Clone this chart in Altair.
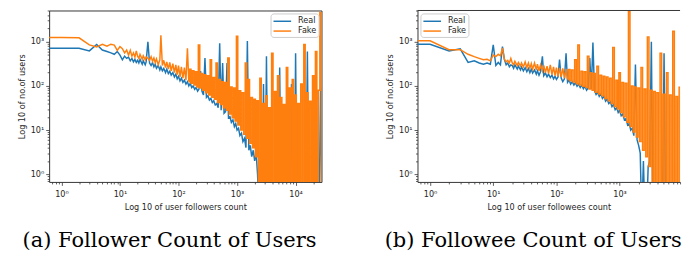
import altair as alt
import pandas as pd

# ---------------- data ----------------
# low counts (each integer shown individually); 0.5 stands for the zero-count point at the left edge
x_low = [0.5, 1, 2, 3, 4, 5, 6, 7, 8, 9, 10, 11, 12, 13, 14, 15, 16, 17, 18, 19]

real_low_a = [710, 710, 710, 620, 870, 650, 600, 560, 520, 600, 500, 390, 470, 420, 450, 370, 420, 350, 400, 340]
fake_low_a = [1250, 1250, 1230, 850, 760, 870, 790, 880, 840, 640, 780, 700, 560, 650, 500, 640, 470, 560, 450, 620]

real_low_b = [880, 880, 620, 690, 340, 370, 330, 310, 330, 310, 850, 290, 340, 300, 780, 400, 300, 330, 270, 300]
fake_low_b = [1050, 1050, 660, 660, 520, 460, 420, 390, 400, 370, 500, 460, 520, 480, 720, 400, 350, 380, 330, 420]

# higher counts (sampled positions)
x_grid = [20, 21, 22, 24, 25, 27, 28, 30, 32, 34,
          36, 38, 40, 42, 45, 48, 50, 53, 56, 60,
          63, 67, 71, 75, 80, 85, 90, 95, 100, 106,
          112, 119, 126, 134, 142, 150, 159, 168, 178, 189,
          200, 212, 224, 238, 252, 267, 283, 300, 318, 337,
          357, 378, 400, 424, 450, 476, 505, 535, 567, 600,
          636, 674, 714, 757, 800, 850, 900, 950, 1000, 1060,
          1120, 1190, 1260, 1340, 1420, 1500, 1590, 1680, 1780, 1890,
          2000, 2120, 2240, 2380, 2520, 2670, 2830, 3000, 3180, 3370,
          3570, 3780, 4000, 4240, 4500, 4760, 5050, 5350, 5670, 6000,
          6360, 6740, 7140, 7570, 8000, 8500, 9000, 9500, 10000, 10600,
          11200, 11900, 12600, 13400, 14200, 15000, 15900, 16800, 17800, 18900,
          20000, 21200, 22400, 23800, 25200, 26700, 28300]

real_grid_a = [380, 330, 400, 310, 370, 300, 350, 1000, 330, 290,
               340, 270, 310, 250, 290, 230, 270, 220, 250, 200,
               240, 190, 215, 175, 200, 160, 185, 145, 165, 130,
               150, 120, 135, 110, 125, 100, 115, 92, 100, 84,
               92, 76, 85, 218, 75, 62, 430, 55, 60, 48,
               52, 42, 46, 37, 40, 32, 920, 28, 330, 24,
               26, 330, 19, 20, 15, 17, 12, 14, 10, 11,
               7.5, 8.5, 5.5, 6.5, 4, 1040, 3.5, 4.5, 2.5, 3.5,
               2, 3, 1, 0.1, 1.5, 0.1, 110, 0.1, 470, 0.1,
               0.1, 0.1, 0.1, 0.1, 0.1, 0.1, 0.1, 260, 0.1, 0.1,
               0.1, 0.1, 0.1, 0.1, 0.1, 110, 0.1, 0.1, 550, 0.1,
               0.1, 0.1, 0.1, 0.1, 0.1, 0.1, 600, 0.1, 0.1, 0.1,
               0.1, 0.1, 79, 0.1, 0.1, 93, 0.1]

fake_grid_a = [470, 420, 520, 400, 480, 390, 450, 420, 380, 460,
               360, 430, 340, 410, 300, 390, 1400, 290, 380, 260,
               350, 240, 340, 220, 320, 200, 300, 180, 290, 160,
               270, 150, 260, 135, 710, 125, 240, 115, 220, 105,
               210, 95, 845, 90, 190, 80, 180, 70, 170, 62,
               390, 55, 155, 50, 330, 42, 140, 38, 125, 32,
               120, 28, 430, 23, 95, 19, 90, 16, 1340, 13,
               78, 10, 70, 8, 330, 6.5, 140, 5, 55, 4,
               50, 2.5, 46, 0.1, 150, 0.1, 40, 0.1, 60, 0.1,
               32, 0.1, 550, 0.1, 75, 0.1, 170, 0.1, 55, 0.1,
               38, 0.1, 260, 0.1, 90, 0.1, 140, 0.1, 62, 0.1,
               40, 0.1, 110, 0.1, 870, 0.1, 70, 0.1, 45, 0.1,
               170, 0.1, 600, 0.1, 80, 4600, 0.1]

real_grid_b = [290, 250, 300, 240, 280, 230, 270, 220, 260, 210,
               250, 200, 240, 195, 230, 185, 220, 175, 210, 470,
               170, 195, 160, 185, 155, 175, 145, 165, 140, 160,
               393, 150, 125, 145, 550, 120, 135, 110, 125, 105,
               118, 98, 110, 92, 104, 86, 98, 80, 90, 430,
               84, 965, 78, 64, 72, 58, 66, 52, 58, 45,
               50, 40, 44, 34, 38, 29, 32, 25, 28, 21,
               23, 17, 18, 13, 14, 10, 11, 7.5, 305, 6,
               4.5, 3, 0.1, 2, 0.1, 0.1, 1.5, 2, 1000, 0.1,
               0.1, 0.1, 0.1, 0.1, 0.1, 0.1, 550, 0.1, 0.1, 0.1,
               0.1, 0.1, 0.1, 0.1, 0.1, 0.1, 0.1, 0.1, 0.1, 0.1]

fake_grid_b = [330, 300, 360, 290, 340, 280, 330, 270, 350, 260,
               330, 250, 320, 240, 330, 230, 310, 220, 300, 215,
               290, 200, 280, 190, 300, 180, 270, 170, 260, 165,
               257, 160, 250, 150, 240, 140, 235, 130, 230, 122,
               390, 112, 845, 105, 215, 98, 210, 92, 470, 85,
               200, 80, 190, 72, 280, 66, 175, 60, 165, 52,
               160, 46, 150, 40, 740, 34, 135, 30, 200, 25,
               120, 20, 115, 15, 4760, 12, 100, 9, 95, 7,
               90, 5.5, 260, 3.5, 85, 2.5, 1290, 1.5, 80, 0.1,
               75, 0.1, 70, 0.1, 550, 0.1, 65, 0.1, 200, 0.1,
               62, 0.1, 1720, 0.1, 58, 0.1, 93, 0.1, 55, 0.1]

series_names = ["Real", "Fake"]
series_colors = ["#1f77b4", "#ff7f0e"]

# index in x_grid from which the fake series is so dense that it reads as a filled band
DENSE_FROM = 35

# ---------------- styling ----------------
FONT = "DejaVu Sans"
FS = 8.25
TXT = "#262626"
FRAME = "#333333"
EXP = "round(log(datum.value)/LN10)"
IS_MAJOR = f"abs(log(datum.value)/LN10 - {EXP}) < 0.01"
LABEL_EXPR = f"{IS_MAJOR} ? '10' + substring('⁰¹²³⁴⁵⁶⁷⁸⁹', {EXP}, {EXP} + 1) : ''"
TICK_SIZE = {"condition": {"test": IS_MAJOR, "value": 3.5}, "value": 2}

Y_DOMAIN = [0.67, 5100]
PLOT_H = 175


def axis(title, orient, domain, label_pad, title_pad):
    return alt.Axis(
        title=title, orient=orient, labelExpr=LABEL_EXPR, tickCount=40,
        labelOverlap=False, labelFlush=False, grid=False,
        domain=domain, domainColor=FRAME, domainWidth=1,
        tickSize=TICK_SIZE, tickColor=FRAME, tickWidth=0.8,
        labelFont=FONT, labelFontSize=FS, labelColor=TXT, labelPadding=label_pad,
        titleFont=FONT, titleFontSize=FS, titleFontWeight="normal", titleColor=TXT,
        titlePadding=title_pad,
    )


def panel(x_lo, real_lo, fake_lo, real_gr, fake_gr, xdom, width, xtitle, caption,
          legend_orient, full_frame):
    n = len(real_gr)
    xs = x_lo + x_grid[:n]
    df_r = pd.DataFrame({"x": xs, "y": real_lo + real_gr, "series": "Real"})
    df_f1 = pd.DataFrame({"x": x_lo + x_grid[:DENSE_FROM + 1],
                          "y": fake_lo + fake_gr[:DENSE_FROM + 1], "series": "Fake"})
    df_f2 = pd.DataFrame({"x": x_grid[DENSE_FROM:n], "y": fake_gr[DENSE_FROM:], "series": "Fake"})
    xscale = alt.Scale(type="log", domain=xdom, nice=False)
    yscale = alt.Scale(type="log", domain=Y_DOMAIN, nice=False)
    x = alt.X("x:Q", scale=xscale, axis=axis(xtitle, "bottom", not full_frame, 4, 5))
    y = alt.Y("y:Q", scale=yscale, axis=axis("Log 10 of no.of users", "left", not full_frame, 2, 4))
    color = alt.Color(
        "series:N",
        scale=alt.Scale(domain=series_names, range=series_colors),
        legend=alt.Legend(
            title=None, orient=legend_orient, offset=3, padding=2,
            strokeColor="#cccccc", fillColor="white", cornerRadius=3,
            labelFont=FONT, labelFontSize=FS, labelColor=TXT,
            symbolType="M-1,0H2.6", symbolSize=100, symbolStrokeWidth=1.5,
            labelOffset=14, rowPadding=0,
        ),
    )
    real = alt.Chart(df_r).mark_line(clip=True, strokeWidth=1.5).encode(x=x, y=y, color=color)
    fake1 = alt.Chart(df_f1).mark_line(clip=True, strokeWidth=1.5).encode(x=x, y=y, color=color)
    fake2 = alt.Chart(df_f2).mark_line(clip=True, strokeWidth=1.5, interpolate="step").encode(
        x=x, y=y, color=color)
    layers = [real, fake1, fake2]
    if not full_frame:
        # top spine of the (cropped) right panel: a rule at the upper limit of the y scale
        top = alt.Chart(pd.DataFrame({"k": [0]})).mark_rule(color=FRAME, strokeWidth=1).encode(
            y=alt.datum(Y_DOMAIN[1]))
        layers.append(top)
    ch = alt.layer(*layers).properties(
        width=width, height=PLOT_H,
        title=alt.TitleParams(caption, orient="bottom", anchor="middle", frame="bounds",
                              font="DejaVu Serif", fontSize=21.4, fontWeight="normal",
                              color="black", offset=20),
    )
    if not full_frame:
        ch = ch.properties(view=alt.ViewBackground(stroke="transparent"))
    return ch


pa = panel(x_low, real_low_a, fake_low_a, real_grid_a, fake_grid_a,
           [0.617, 27700], 278, "Log 10 of user followers count",
           "(a) Follower Count of Users", "top-right", True)
pb = panel(x_low, real_low_b, fake_low_b, real_grid_b, fake_grid_b,
           [0.633, 9050], 268, "Log 10 of user followees count",
           "(b) Followee Count of Users", "top-left", False)

chart = alt.hconcat(pa, pb, spacing=62).properties(
    padding={"left": 9, "top": -6, "right": 0, "bottom": 0},
    background="white",
).configure_view(stroke=FRAME, strokeWidth=1)

chart.save("out.html", embed_options={"renderer": "svg", "actions": False})
